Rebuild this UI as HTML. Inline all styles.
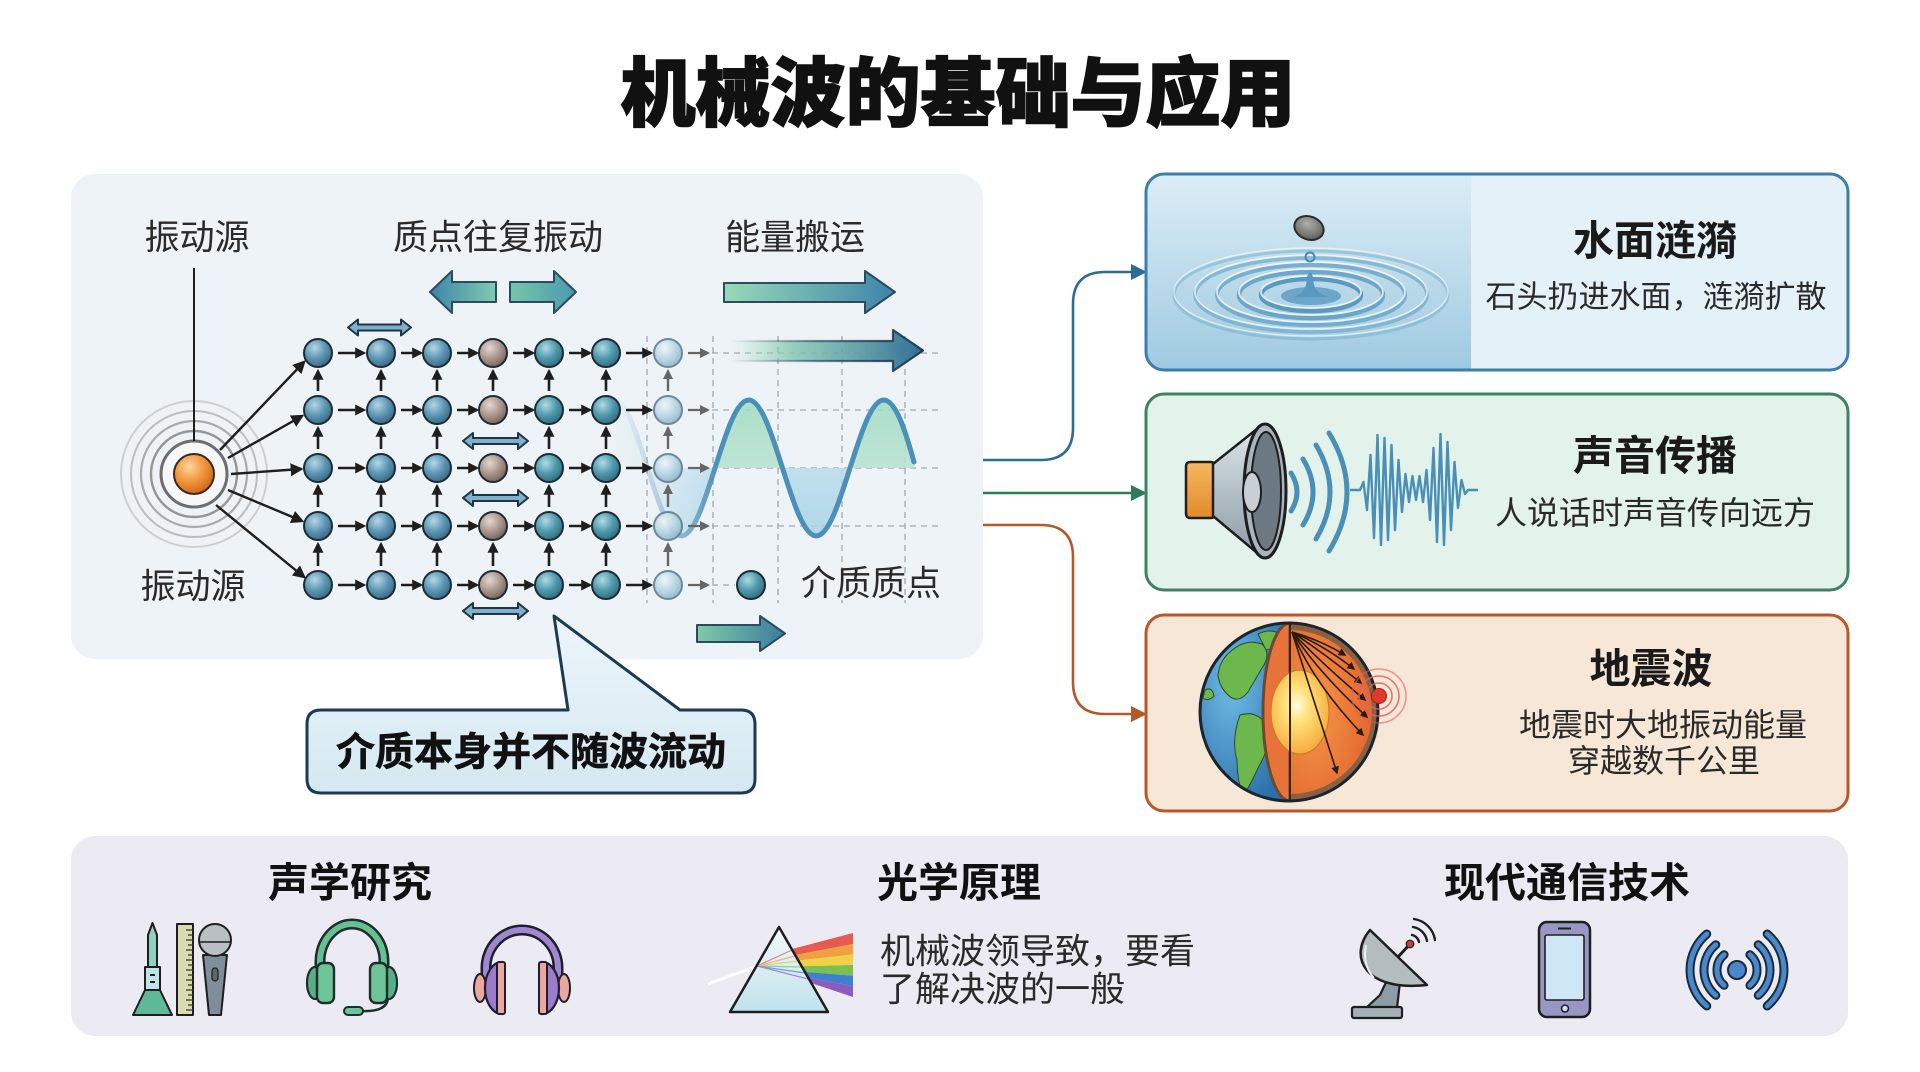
<!DOCTYPE html>
<html><head><meta charset="utf-8"><style>
html,body{margin:0;padding:0;background:#fff;}
svg{display:block;}
text{font-family:"Liberation Sans","Noto Sans CJK SC",sans-serif;}
</style></head><body>
<svg width="1920" height="1072" viewBox="0 0 1920 1072" xmlns="http://www.w3.org/2000/svg">
<defs>
  <marker id="ahS" viewBox="0 0 10 10" refX="8" refY="5" markerWidth="11" markerHeight="11" markerUnits="userSpaceOnUse" orient="auto"><path d="M0,0 L10,5 L0,10 z" fill="#1e1e1e"/></marker>
  <marker id="ahG" viewBox="0 0 10 10" refX="8" refY="5" markerWidth="10" markerHeight="10" markerUnits="userSpaceOnUse" orient="auto"><path d="M0,0 L10,5 L0,10 z" fill="#666"/></marker>
  <marker id="ahM" viewBox="0 0 10 10" refX="8" refY="5" markerWidth="13" markerHeight="13" markerUnits="userSpaceOnUse" orient="auto"><path d="M0,0 L10,5 L0,10 z" fill="#1e1e1e"/></marker>
  <marker id="ahE" viewBox="0 0 10 10" refX="8" refY="5" markerWidth="8" markerHeight="8" markerUnits="userSpaceOnUse" orient="auto"><path d="M0,0 L10,5 L0,10 z" fill="#2a1a10"/></marker>
  <radialGradient id="gBall" cx="0.38" cy="0.32" r="0.7"><stop offset="0" stop-color="#b4d6e6"/><stop offset="0.55" stop-color="#5d96b3"/><stop offset="1" stop-color="#3a6a85"/></radialGradient>
  <radialGradient id="gBallT" cx="0.38" cy="0.32" r="0.7"><stop offset="0" stop-color="#b0dbe2"/><stop offset="0.55" stop-color="#4f99ad"/><stop offset="1" stop-color="#336c80"/></radialGradient>
  <radialGradient id="gBrown" cx="0.38" cy="0.32" r="0.7"><stop offset="0" stop-color="#e4d8d0"/><stop offset="0.55" stop-color="#ab978d"/><stop offset="1" stop-color="#77655d"/></radialGradient>
  <radialGradient id="gLight" cx="0.38" cy="0.32" r="0.7"><stop offset="0" stop-color="#eef6fa"/><stop offset="0.55" stop-color="#b8d6e4"/><stop offset="1" stop-color="#8fb6c8"/></radialGradient>
  <radialGradient id="gOrange" cx="0.38" cy="0.32" r="0.7"><stop offset="0" stop-color="#ffd6a0"/><stop offset="0.5" stop-color="#f39a40"/><stop offset="1" stop-color="#cf651c"/></radialGradient>
  <linearGradient id="gArrL" x1="0" x2="1" y1="0" y2="0"><stop offset="0" stop-color="#3d84a8"/><stop offset="1" stop-color="#80cbb0"/></linearGradient>
  <linearGradient id="gArrR" x1="0" x2="1" y1="0" y2="0"><stop offset="0" stop-color="#78c6a8"/><stop offset="1" stop-color="#4b98b0"/></linearGradient>
  <linearGradient id="gEnergy" x1="0" x2="1" y1="0" y2="0"><stop offset="0" stop-color="#98dab8"/><stop offset="1" stop-color="#3e84aa"/></linearGradient>
  <linearGradient id="gEnergy2" x1="731" x2="923" y1="0" y2="0" gradientUnits="userSpaceOnUse"><stop offset="0" stop-color="#a6dcc4" stop-opacity="0"/><stop offset="0.3" stop-color="#86c8b2" stop-opacity="0.8"/><stop offset="1" stop-color="#2f6f95"/></linearGradient>
  <linearGradient id="gEnergy2s" x1="731" x2="923" y1="0" y2="0" gradientUnits="userSpaceOnUse"><stop offset="0" stop-color="#1e3a50" stop-opacity="0"/><stop offset="0.45" stop-color="#1e3a50" stop-opacity="0.6"/><stop offset="1" stop-color="#1e3a50"/></linearGradient>
  <linearGradient id="gBot" x1="0" x2="1" y1="0" y2="0"><stop offset="0" stop-color="#80caa8"/><stop offset="1" stop-color="#3b7ca0"/></linearGradient>
  <linearGradient id="gWaveFill" x1="0" y1="400" x2="0" y2="536" gradientUnits="userSpaceOnUse"><stop offset="0" stop-color="#9fdac0"/><stop offset="0.5" stop-color="#b6e2d0"/><stop offset="0.5" stop-color="#b9dcea"/><stop offset="1" stop-color="#a6d2e6"/></linearGradient>
  <linearGradient id="gFade" x1="612" x2="720" y1="0" y2="0" gradientUnits="userSpaceOnUse"><stop offset="0" stop-color="#000"/><stop offset="0.35" stop-color="#444"/><stop offset="1" stop-color="#fff"/></linearGradient>
  <mask id="mFade"><rect x="600" y="380" width="340" height="180" fill="url(#gFade)"/></mask>
  <linearGradient id="gCard1Img" x1="0" y1="0" x2="0" y2="1"><stop offset="0" stop-color="#dcedf6"/><stop offset="1" stop-color="#9fcae1"/></linearGradient>
  <linearGradient id="gCallout" x1="0" y1="616" x2="0" y2="793" gradientUnits="userSpaceOnUse"><stop offset="0" stop-color="#edf6fb"/><stop offset="1" stop-color="#d4e8f1"/></linearGradient>
  <radialGradient id="gOcean" cx="0.35" cy="0.35" r="0.75"><stop offset="0" stop-color="#70bce4"/><stop offset="1" stop-color="#2a6eaa"/></radialGradient>
  <radialGradient id="gMantle" cx="0.3" cy="0.5" r="0.8"><stop offset="0" stop-color="#f5964a"/><stop offset="1" stop-color="#e0602a"/></radialGradient>
  <radialGradient id="gCore" cx="0.45" cy="0.42" r="0.6"><stop offset="0" stop-color="#fffbe6"/><stop offset="0.35" stop-color="#ffe27a"/><stop offset="1" stop-color="#f6ab3c"/></radialGradient>
  <linearGradient id="gPrism" x1="0" y1="0" x2="0" y2="1"><stop offset="0" stop-color="#f2fafc"/><stop offset="1" stop-color="#bfe2ec"/></linearGradient>
  <radialGradient id="gPebble" cx="0.4" cy="0.35" r="0.7"><stop offset="0" stop-color="#b0b0ac"/><stop offset="1" stop-color="#5a5a58"/></radialGradient>
  <linearGradient id="gCone" x1="0" y1="0" x2="0" y2="1"><stop offset="0" stop-color="#dfe6ea"/><stop offset="0.5" stop-color="#b4c0c8"/><stop offset="1" stop-color="#8e9ca6"/></linearGradient>
  <linearGradient id="gBox" x1="0" y1="0" x2="0" y2="1"><stop offset="0" stop-color="#f7b860"/><stop offset="1" stop-color="#e08a2c"/></linearGradient>
  <clipPath id="cCard1"><rect x="1146" y="174" width="702" height="196" rx="18"/></clipPath>
  <clipPath id="cGlobe"><path d="M1290,623 A89 89 0 0 0 1290,801 Z"/></clipPath>
</defs>

<!-- Title -->
<text x="958" y="94" font-size="75" font-weight="900" fill="#111" stroke="#111" stroke-width="1.6" text-anchor="middle" dominant-baseline="central">机械波的基础与应用</text>

<!-- Left panel -->
<rect x="71" y="174" width="912" height="485" rx="24" fill="#eef3f8"/>

<!-- dashed grid -->
<g stroke="#9ea9b1" stroke-width="1.3" stroke-dasharray="6 5" fill="none">
  <path d="M712,353 H940 M712,410 H940 M712,468 H940 M712,526 H940 M712,585 H735"/>
  <path d="M647,336 V603 M713,336 V603 M778,336 V603 M842,336 V603 M905,336 V603"/>
</g>

<!-- wave -->
<g mask="url(#mFade)">
  <path d="M613.75,400 C625.97,400 636.5,433.2 647.5,468 C658.5,502.8 669.03,536 681.25,536 C693.47,536 704,502.8 715,468 C726,433.2 736.53,400 748.75,400 C760.97,400 771.5,433.2 782.5,468 C793.5,502.8 804.03,536 816.25,536 C828.47,536 839,502.8 850,468 C861,433.2 871.53,400 883.75,400 C895.97,400 906,433 914,462 L914,468 L613.75,468 Z" fill="url(#gWaveFill)" opacity="0.85"/>
  <path d="M613.75,400 C625.97,400 636.5,433.2 647.5,468 C658.5,502.8 669.03,536 681.25,536 C693.47,536 704,502.8 715,468 C726,433.2 736.53,400 748.75,400 C760.97,400 771.5,433.2 782.5,468 C793.5,502.8 804.03,536 816.25,536 C828.47,536 839,502.8 850,468 C861,433.2 871.53,400 883.75,400 C895.97,400 906,433 914,462" fill="none" stroke="#4a90b8" stroke-width="5" stroke-linecap="round"/>
</g>

<!-- source rings -->
<g fill="none">
  <circle cx="194" cy="474" r="73" stroke="#cfcfcf" stroke-width="2"/>
  <circle cx="194" cy="474" r="63" stroke="#bdbdbd" stroke-width="2"/>
  <circle cx="194" cy="474" r="53" stroke="#aaaaaa" stroke-width="2.2"/>
  <circle cx="194" cy="474" r="43" stroke="#959595" stroke-width="2.4"/>
</g>
<circle cx="194" cy="474" r="31" fill="#f5f7f9"/>
<circle cx="194" cy="474" r="33" fill="none" stroke="#6e6e6e" stroke-width="3"/>
<circle cx="194" cy="474" r="20" fill="url(#gOrange)" stroke="#3a2a20" stroke-width="2"/>
<line x1="194" y1="268" x2="194" y2="441" stroke="#1e1e1e" stroke-width="2"/>

<!-- source arrows -->
<g stroke="#1e1e1e" stroke-width="2.4" marker-end="url(#ahM)">
  <line x1="220" y1="450" x2="304" y2="362"/>
  <line x1="228" y1="458" x2="302" y2="416"/>
  <line x1="231" y1="474" x2="301" y2="469"/>
  <line x1="228" y1="490" x2="302" y2="521"/>
  <line x1="216" y1="505" x2="304" y2="577"/>
</g>

<!-- vertical arrows -->
<g stroke="#1e1e1e" stroke-width="2.6" marker-end="url(#ahS)">
  <line x1="318" y1="391" x2="318" y2="371"/><line x1="318" y1="449" x2="318" y2="428"/><line x1="318" y1="507" x2="318" y2="486"/><line x1="318" y1="566" x2="318" y2="544"/>
  <line x1="381" y1="391" x2="381" y2="371"/><line x1="381" y1="449" x2="381" y2="428"/><line x1="381" y1="507" x2="381" y2="486"/><line x1="381" y1="566" x2="381" y2="544"/>
  <line x1="437" y1="391" x2="437" y2="371"/><line x1="437" y1="449" x2="437" y2="428"/><line x1="437" y1="507" x2="437" y2="486"/><line x1="437" y1="566" x2="437" y2="544"/>
  <line x1="493" y1="391" x2="493" y2="371"/><line x1="493" y1="566" x2="493" y2="544"/>
  <line x1="549" y1="391" x2="549" y2="371"/><line x1="549" y1="449" x2="549" y2="428"/><line x1="549" y1="507" x2="549" y2="486"/><line x1="549" y1="566" x2="549" y2="544"/>
  <line x1="606" y1="391" x2="606" y2="371"/><line x1="606" y1="449" x2="606" y2="428"/><line x1="606" y1="507" x2="606" y2="486"/><line x1="606" y1="566" x2="606" y2="544"/>
</g>
<g stroke="#666" stroke-width="2.4" marker-end="url(#ahG)">
  <line x1="668" y1="391" x2="668" y2="371"/><line x1="668" y1="449" x2="668" y2="428"/><line x1="668" y1="507" x2="668" y2="486"/><line x1="668" y1="566" x2="668" y2="544"/>
</g>

<!-- horizontal arrows -->
<g stroke="#1e1e1e" stroke-width="2.6" marker-end="url(#ahS)">
  <line x1="338" y1="353" x2="364" y2="353"/><line x1="401" y1="353" x2="421" y2="353"/><line x1="457" y1="353" x2="477" y2="353"/><line x1="513" y1="353" x2="533" y2="353"/><line x1="569" y1="353" x2="590" y2="353"/><line x1="626" y1="353" x2="651" y2="353"/>
  <line x1="338" y1="410" x2="364" y2="410"/><line x1="401" y1="410" x2="421" y2="410"/><line x1="457" y1="410" x2="477" y2="410"/><line x1="513" y1="410" x2="533" y2="410"/><line x1="569" y1="410" x2="590" y2="410"/><line x1="626" y1="410" x2="651" y2="410"/>
  <line x1="338" y1="468" x2="364" y2="468"/><line x1="401" y1="468" x2="421" y2="468"/><line x1="457" y1="468" x2="477" y2="468"/><line x1="513" y1="468" x2="533" y2="468"/><line x1="569" y1="468" x2="590" y2="468"/><line x1="626" y1="468" x2="651" y2="468"/>
  <line x1="338" y1="526" x2="364" y2="526"/><line x1="401" y1="526" x2="421" y2="526"/><line x1="457" y1="526" x2="477" y2="526"/><line x1="513" y1="526" x2="533" y2="526"/><line x1="569" y1="526" x2="590" y2="526"/><line x1="626" y1="526" x2="651" y2="526"/>
  <line x1="338" y1="585" x2="364" y2="585"/><line x1="401" y1="585" x2="421" y2="585"/><line x1="457" y1="585" x2="477" y2="585"/><line x1="513" y1="585" x2="533" y2="585"/><line x1="569" y1="585" x2="590" y2="585"/><line x1="626" y1="585" x2="651" y2="585"/>
</g>
<g stroke="#666" stroke-width="2.2" marker-end="url(#ahG)">
  <line x1="688" y1="353" x2="708" y2="353"/><line x1="688" y1="410" x2="708" y2="410"/><line x1="688" y1="468" x2="708" y2="468"/><line x1="688" y1="526" x2="708" y2="526"/><line x1="688" y1="585" x2="708" y2="585"/>
</g>

<!-- balls -->
<g stroke="#1d2b35" stroke-width="2">
  <g fill="url(#gBall)">
    <circle cx="318" cy="353" r="14"/><circle cx="318" cy="410" r="14"/><circle cx="318" cy="468" r="14"/><circle cx="318" cy="526" r="14"/><circle cx="318" cy="585" r="14"/>
    <circle cx="381" cy="353" r="14"/><circle cx="381" cy="410" r="14"/><circle cx="381" cy="468" r="14"/><circle cx="381" cy="526" r="14"/><circle cx="381" cy="585" r="14"/>
    <circle cx="437" cy="353" r="14"/><circle cx="437" cy="410" r="14"/><circle cx="437" cy="468" r="14"/><circle cx="437" cy="526" r="14"/><circle cx="437" cy="585" r="14"/>
  </g>
  <g fill="url(#gBrown)">
    <circle cx="493" cy="353" r="14"/><circle cx="493" cy="410" r="14"/><circle cx="493" cy="468" r="14"/><circle cx="493" cy="526" r="14"/><circle cx="493" cy="585" r="14"/>
  </g>
  <g fill="url(#gBallT)">
    <circle cx="549" cy="353" r="14"/><circle cx="549" cy="410" r="14"/><circle cx="549" cy="468" r="14"/><circle cx="549" cy="526" r="14"/><circle cx="549" cy="585" r="14"/>
    <circle cx="606" cy="353" r="14"/><circle cx="606" cy="410" r="14"/><circle cx="606" cy="468" r="14"/><circle cx="606" cy="526" r="14"/><circle cx="606" cy="585" r="14"/>
    <circle cx="751" cy="585" r="14"/>
  </g>
</g>
<g fill="url(#gLight)" stroke="#5f7f8f" stroke-width="2" opacity="0.9">
  <circle cx="668" cy="353" r="14"/><circle cx="668" cy="410" r="14"/><circle cx="668" cy="468" r="14"/><circle cx="668" cy="526" r="14"/><circle cx="668" cy="585" r="14"/>
</g>

<!-- double arrows -->
<g fill="#7fb2ca" stroke="#1f3444" stroke-width="2" stroke-linejoin="round">
  <polygon points="348,327.5 358,319.5 358,324.5 401,324.5 401,319.5 411,327.5 401,335.5 401,330.5 358,330.5 358,335.5"/>
  <polygon points="463,441 473,433 473,438 518,438 518,433 528,441 518,449 518,444 473,444 473,449"/>
  <polygon points="463,498 473,490 473,495 518,495 518,490 528,498 518,506 518,501 473,501 473,506"/>
  <polygon points="463,611 473,603 473,608 518,608 518,603 528,611 518,619 518,614 473,614 473,619"/>
</g>

<!-- big arrows -->
<g stroke="#2b4c5e" stroke-width="2" stroke-linejoin="round">
  <polygon points="430,292 452,271 452,282 496,282 496,302 452,302 452,313" fill="url(#gArrL)"/>
  <polygon points="510,282 554,282 554,271 576,292 554,313 554,302 510,302" fill="url(#gArrR)"/>
  <polygon points="724,283 865,283 865,271 895,292 865,313 865,302 724,302" fill="url(#gEnergy)"/>
  <polygon points="697,625 760,625 760,616 785,633.5 760,651 760,642 697,642" fill="url(#gBot)"/>
</g>
<polygon points="731,341 893,341 893,330 923,350.5 893,371 893,361 731,361" fill="url(#gEnergy2)" stroke="url(#gEnergy2s)" stroke-width="2.2" stroke-linejoin="round"/>

<!-- left panel labels -->
<g font-size="35" fill="#2a2a2a" text-anchor="middle" dominant-baseline="central">
  <text x="197" y="238">振动源</text>
  <text x="498" y="238">质点往复振动</text>
  <text x="795" y="238">能量搬运</text>
  <text x="193" y="587">振动源</text>
  <text x="871" y="584">介质质点</text>
</g>

<!-- callout -->
<path d="M321,710 H568 L554,616 L680,710 H741 Q755,710 755,724 V779 Q755,793 741,793 H321 Q307,793 307,779 V724 Q307,710 321,710 Z" fill="url(#gCallout)" stroke="#1e3a50" stroke-width="3" stroke-linejoin="round"/>
<text x="531" y="753" font-size="39" font-weight="700" fill="#111" stroke="#111" stroke-width="0.6" text-anchor="middle" dominant-baseline="central">介质本身并不随波流动</text>

<!-- connectors -->
<g fill="none" stroke-width="2.6">
  <path d="M983,460 H1041 Q1073,460 1073,428 V304 Q1073,272 1105,272 H1136" stroke="#2e6d93"/>
  <path d="M983,493 H1136" stroke="#2e7a5c"/>
  <path d="M983,525 H1041 Q1073,525 1073,557 V682 Q1073,714 1105,714 H1136" stroke="#b35a2a"/>
</g>
<polygon points="1131,264 1147,272 1131,280" fill="#2e6d93"/>
<polygon points="1131,485 1147,493 1131,501" fill="#2e7a5c"/>
<polygon points="1131,706 1147,714 1131,722" fill="#b35a2a"/>

<!-- Card 1 -->
<rect x="1146" y="174" width="702" height="196" rx="18" fill="#e4f1f9"/>
<g clip-path="url(#cCard1)">
  <rect x="1146" y="174" width="325" height="196" fill="url(#gCard1Img)"/>
</g>
<g fill="none">
  <ellipse cx="1311" cy="295" rx="137" ry="44" stroke="#78b0cc" stroke-width="3" opacity="0.55"/>
  <ellipse cx="1311" cy="292" rx="137" ry="44" stroke="#ffffff" stroke-width="1.4" opacity="0.6"/>
  <ellipse cx="1311" cy="295" rx="116" ry="37" stroke="#6aa6c6" stroke-width="3.5" opacity="0.65"/>
  <ellipse cx="1311" cy="292" rx="116" ry="37" stroke="#ffffff" stroke-width="1.6" opacity="0.7"/>
  <ellipse cx="1311" cy="295" rx="94" ry="30" stroke="#62a0c4" stroke-width="4" opacity="0.75"/>
  <ellipse cx="1311" cy="292" rx="94" ry="30" stroke="#ffffff" stroke-width="1.8" opacity="0.75"/>
  <ellipse cx="1311" cy="295" rx="72" ry="23" stroke="#5a9ac0" stroke-width="4.5" opacity="0.8"/>
  <ellipse cx="1311" cy="292" rx="72" ry="23" stroke="#ffffff" stroke-width="1.8" opacity="0.75"/>
  <ellipse cx="1311" cy="295" rx="50" ry="16" stroke="#5292b8" stroke-width="4.5" opacity="0.9"/>
  <ellipse cx="1311" cy="292" rx="50" ry="16" stroke="#ffffff" stroke-width="1.8" opacity="0.75"/>
</g>
<ellipse cx="1311" cy="296" rx="30" ry="9" fill="#5f9ec4" opacity="0.85"/>
<path d="M1292,297 C1304,295 1307,286 1307,277 Q1310,268 1313,277 C1313,286 1316,295 1330,297 Z" fill="#5a98c0"/>
<circle cx="1310" cy="257" r="4.5" fill="none" stroke="#4a88b0" stroke-width="2"/>
<ellipse cx="1309" cy="228" rx="15" ry="11.5" transform="rotate(20 1309 228)" fill="url(#gPebble)" stroke="#2a2a2a" stroke-width="2"/>
<rect x="1146" y="174" width="702" height="196" rx="18" fill="none" stroke="#3b7ea8" stroke-width="3"/>
<text x="1655" y="241" font-size="41" font-weight="700" fill="#1a1a1a" text-anchor="middle" dominant-baseline="central">水面涟漪</text>
<text x="1656" y="297" font-size="31" fill="#2a2a2a" text-anchor="middle" dominant-baseline="central">石头扔进水面，涟漪扩散</text>

<!-- Card 2 -->
<rect x="1146" y="394" width="702" height="196" rx="18" fill="#e3f3ec" stroke="#3f8068" stroke-width="3"/>
<rect x="1186" y="462" width="29" height="56" rx="4" fill="url(#gBox)" stroke="#1e1e1e" stroke-width="2.5"/>
<polygon points="1213,464 1262,425 1262,557 1213,516" fill="url(#gCone)" stroke="#1e1e1e" stroke-width="2.5" stroke-linejoin="round"/>
<ellipse cx="1265" cy="491" rx="21" ry="67" fill="#aab6be" stroke="#1e1e1e" stroke-width="3"/>
<ellipse cx="1266" cy="491" rx="15" ry="59" fill="#6c7882" stroke="#1e1e1e" stroke-width="2"/>
<ellipse cx="1252" cy="492" rx="9" ry="20" fill="#c8d0d6" stroke="#1e1e1e" stroke-width="2"/>
<g fill="none" stroke="#4a8fb5" stroke-width="5" stroke-linecap="round">
  <path d="M1291,473 Q1303,492 1291,511"/>
  <path d="M1303,459 Q1323,492 1303,525"/>
  <path d="M1316,445 Q1344,492 1316,539"/>
  <path d="M1329,433 Q1365,492 1329,551"/>
</g>
<polyline fill="none" stroke="#4a8fb5" stroke-width="2.4" stroke-linejoin="round" points="1350,490 1360,490 1363.5,482 1367,510 1370.5,455 1374,538 1377.5,435 1381,545 1384.5,438 1388,540 1391.5,445 1395,530 1398.5,460 1402,512 1405.5,474 1409,502 1412.5,476 1416,500 1419.5,476 1423,502 1426.5,470 1430,520 1433.5,448 1437,542 1440.5,434 1444,545 1447.5,442 1451,530 1454.5,462 1458,508 1461.5,480 1465,494 1468,490 1478,490"/>
<text x="1655" y="456" font-size="41" font-weight="700" fill="#1a1a1a" text-anchor="middle" dominant-baseline="central">声音传播</text>
<text x="1655" y="513" font-size="32" fill="#2a2a2a" text-anchor="middle" dominant-baseline="central">人说话时声音传向远方</text>

<!-- Card 3 -->
<rect x="1146" y="615" width="702" height="196" rx="18" fill="#f7e7d6" stroke="#b8582a" stroke-width="3"/>
<path d="M1290,623 A89 89 0 0 0 1290,801 Z" fill="url(#gOcean)"/>
<g clip-path="url(#cGlobe)" fill="#6cb84c" stroke="#2a4a2a" stroke-width="1">
  <path d="M1230,652 Q1245,638 1262,644 Q1272,654 1262,668 Q1255,680 1248,692 Q1240,702 1232,698 Q1220,690 1218,675 Q1220,660 1230,652 Z"/>
  <path d="M1240,715 Q1256,710 1266,724 Q1272,745 1259,766 Q1250,786 1243,796 Q1237,780 1237,760 Q1231,740 1240,715 Z"/>
  <path d="M1258,634 Q1270,628 1280,634 Q1279,648 1266,650 Z"/>
  <path d="M1205,690 Q1212,686 1214,696 Q1208,702 1203,698 Z"/>
</g>
<path d="M1290,623 A27 89 0 0 0 1290,801 Z" fill="#e8733a" stroke="#6a4a30" stroke-width="3"/>
<path d="M1290,623 A89 89 0 0 1 1290,801 Z" fill="#8a6040"/>
<path d="M1290,630 A82 82 0 0 1 1290,794 Z" fill="url(#gMantle)"/>
<ellipse cx="1300" cy="712" rx="29" ry="42" fill="url(#gCore)" stroke="#d07a28" stroke-width="1.2"/>
<line x1="1290" y1="623" x2="1290" y2="801" stroke="#3a2418" stroke-width="2"/>
<g fill="none" stroke="#2a1a10" stroke-width="1.6" marker-end="url(#ahE)">
  <path d="M1292,632 Q1320,640 1345,655"/>
  <path d="M1292,632 Q1325,646 1354,669"/>
  <path d="M1292,632 Q1325,654 1361,683"/>
  <path d="M1292,632 Q1320,662 1365,700"/>
  <path d="M1292,632 Q1318,672 1367,717"/>
  <path d="M1292,632 Q1314,684 1363,735"/>
  <path d="M1292,632 Q1312,694 1337,773"/>
</g>
<circle cx="1289" cy="712" r="89" fill="none" stroke="#1a2530" stroke-width="3"/>
<g fill="none" stroke="#e06060" stroke-width="1.6" opacity="0.85">
  <circle cx="1379" cy="696" r="13"/><circle cx="1379" cy="696" r="20"/><circle cx="1379" cy="696" r="27" opacity="0.7"/>
</g>
<circle cx="1379" cy="696" r="7.5" fill="#e03a2a" stroke="#a02018" stroke-width="1"/>
<text x="1651" y="669" font-size="41" font-weight="700" fill="#1a1a1a" text-anchor="middle" dominant-baseline="central">地震波</text>
<text x="1663" y="725" font-size="32" fill="#2a2a2a" text-anchor="middle" dominant-baseline="central">地震时大地振动能量</text>
<text x="1664" y="761" font-size="32" fill="#2a2a2a" text-anchor="middle" dominant-baseline="central">穿越数千公里</text>

<!-- Bottom panel -->
<rect x="71" y="836" width="1777" height="200" rx="24" fill="#ecebf3"/>
<g font-size="41" font-weight="700" fill="#111" text-anchor="middle" dominant-baseline="central">
  <text x="350" y="883">声学研究</text>
  <text x="959" y="883">光学原理</text>
  <text x="1567" y="883">现代通信技术</text>
</g>

<!-- flask -->
<g stroke="#1e1e1e" stroke-width="2" stroke-linejoin="round">
  <polygon points="152.5,923 157,935 157,967 148,967 148,935" fill="#8fd0c0"/>
  <rect x="145" y="967" width="15" height="23" fill="#bfe3e6"/>
  <polygon points="145,990 160,990 172,1015 133,1015" fill="#5fb898"/>
  <rect x="177" y="924" width="16" height="91" fill="#d9dcae"/>
</g>
<path d="M150,975 H155 M150,982 H155" stroke="#1e1e1e" stroke-width="2"/>
<path d="M186,930 H193 M188,935 H193 M186,940 H193 M188,945 H193 M186,950 H193 M188,955 H193 M186,960 H193 M188,965 H193 M186,970 H193 M188,975 H193 M186,980 H193 M188,985 H193 M186,990 H193 M188,995 H193 M186,1000 H193 M188,1005 H193 M186,1010 H193" stroke="#333" stroke-width="1.2"/>
<polygon points="203,955 227,955 221,1015 209,1015" fill="#7f8e98" stroke="#1e1e1e" stroke-width="2" stroke-linejoin="round"/>
<circle cx="215" cy="940" r="16" fill="#b8c0c4" stroke="#1e1e1e" stroke-width="2"/>
<path d="M200,942 H230" stroke="#1e1e1e" stroke-width="1.5"/>
<rect x="212" y="968" width="6" height="13" rx="3" fill="#596870" stroke="#1e1e1e" stroke-width="1.2"/>

<!-- green headphones -->
<path d="M320,985 L320,962 A32 38 0 0 1 384,962 L384,985" fill="none" stroke="#1e2e2a" stroke-width="11"/>
<path d="M320,985 L320,962 A32 38 0 0 1 384,962 L384,985" fill="none" stroke="#66bf92" stroke-width="6"/>
<ellipse cx="315" cy="983" rx="8" ry="16" fill="#5aae85" stroke="#1e2e2a" stroke-width="2.2"/>
<ellipse cx="389" cy="983" rx="8" ry="16" fill="#5aae85" stroke="#1e2e2a" stroke-width="2.2"/>
<rect x="317" y="963" width="17" height="40" rx="6" fill="#6cc497" stroke="#1e2e2a" stroke-width="2.4"/>
<rect x="370" y="963" width="17" height="40" rx="6" fill="#6cc497" stroke="#1e2e2a" stroke-width="2.4"/>
<path d="M388,998 Q387,1012 362,1011" fill="none" stroke="#1e2e2a" stroke-width="2.5"/>
<rect x="344" y="1007" width="19" height="8" rx="4" fill="#6cc497" stroke="#1e2e2a" stroke-width="2"/>

<!-- purple headphones -->
<path d="M486,990 L486,968 A36 38 0 0 1 558,968 L558,990" fill="none" stroke="#1e1e2e" stroke-width="11"/>
<path d="M486,990 L486,968 A36 38 0 0 1 558,968 L558,990" fill="none" stroke="#a088d0" stroke-width="6"/>
<ellipse cx="480" cy="988" rx="6" ry="14" fill="#eaa8a0" stroke="#1e1e2e" stroke-width="2"/>
<ellipse cx="564" cy="988" rx="6" ry="14" fill="#eaa8a0" stroke="#1e1e2e" stroke-width="2"/>
<path d="M502,962 A17 26 0 0 0 502,1014 Z" fill="#9a7cc9" stroke="#1e1e2e" stroke-width="2.2"/>
<path d="M542,962 A17 26 0 0 1 542,1014 Z" fill="#9a7cc9" stroke="#1e1e2e" stroke-width="2.2"/>
<rect x="497" y="962" width="8" height="52" rx="2" fill="#eaa8a0" stroke="#1e1e2e" stroke-width="2"/>
<rect x="539" y="962" width="8" height="52" rx="2" fill="#eaa8a0" stroke="#1e1e2e" stroke-width="2"/>

<!-- prism -->
<line x1="708" y1="984" x2="757" y2="966" stroke="#ffffff" stroke-width="3"/>
<polygon points="779,927 730,1012 828,1012" fill="url(#gPrism)"/>
<g stroke-width="1.2" opacity="0.7">
  <line x1="757" y1="966" x2="792" y2="950" stroke="#e85a50"/>
  <line x1="757" y1="966" x2="795" y2="956" stroke="#f0a040"/>
  <line x1="757" y1="966" x2="798" y2="961" stroke="#e0c040"/>
  <line x1="757" y1="966" x2="802" y2="967" stroke="#7cc050"/>
  <line x1="757" y1="966" x2="805" y2="973" stroke="#3f7fcf"/>
  <line x1="757" y1="966" x2="808" y2="979" stroke="#8a5cc0"/>
</g>
<polygon points="792,949 795.4,955 853,944 853,933" fill="#e85a50"/>
<polygon points="795.4,955 798.6,960.5 853,954.5 853,944" fill="#f0a040"/>
<polygon points="798.6,960.5 801.9,966.2 853,965 853,954.5" fill="#f2d04a"/>
<polygon points="801.9,966.2 805.2,971.9 853,975.7 853,965" fill="#7cc050"/>
<polygon points="805.2,971.9 808.5,977.6 853,986.3 853,975.7" fill="#3f7fcf"/>
<polygon points="808.5,977.6 811.8,983.3 853,997 853,986.3" fill="#8a5cc0"/>
<polygon points="779,927 730,1012 828,1012" fill="none" stroke="#1e1e1e" stroke-width="2.5" stroke-linejoin="round"/>
<g font-size="35" fill="#2a2a2a" dominant-baseline="central">
  <text x="880" y="952">机械波领导致，要看</text>
  <text x="880" y="990">了解决波的一般</text>
</g>

<!-- satellite dish -->
<polygon points="1388,978 1400,982 1397,1008 1366,1008 1380,995" fill="#8e9ca6" stroke="#1e1e1e" stroke-width="2.2" stroke-linejoin="round"/>
<rect x="1352" y="1007" width="50" height="11" rx="2" fill="#a4b0b8" stroke="#1e1e1e" stroke-width="2.2"/>
<path d="M1370,930 C1348,956 1364,992 1427,985 Z" fill="#b4bcc0" stroke="#1e1e1e" stroke-width="2.5" stroke-linejoin="round"/>
<path d="M1366,945 Q1362,965 1374,978" fill="none" stroke="#eef2f4" stroke-width="2"/>
<line x1="1398" y1="957" x2="1410" y2="944" stroke="#1e1e1e" stroke-width="3"/>
<circle cx="1410" cy="944" r="3.8" fill="#c04040" stroke="#1e1e1e" stroke-width="1.2"/>
<g fill="none" stroke="#1e1e1e" stroke-width="2.4" stroke-linecap="round">
  <path d="M1412,935 A9 9 0 0 1 1419,942"/>
  <path d="M1413,927 A17 17 0 0 1 1427,941"/>
  <path d="M1414,919 A25 25 0 0 1 1435,940"/>
</g>

<!-- phone -->
<rect x="1539" y="922" width="51" height="95" rx="8" fill="#9a96c4" stroke="#1e1e1e" stroke-width="2.5"/>
<rect x="1545" y="935" width="39" height="65" rx="2" fill="#cfe6f4" stroke="#1e1e1e" stroke-width="1.6"/>
<line x1="1558" y1="928.5" x2="1571" y2="928.5" stroke="#1e1e1e" stroke-width="2"/>
<circle cx="1565" cy="1008.5" r="3.5" fill="#dcdaf0" stroke="#1e1e1e" stroke-width="1.6"/>

<!-- wifi -->
<g fill="none" stroke-linecap="round">
  <g stroke="#1a2a3a" stroke-width="9">
    <path d="M1749.9,954.7 A20 20 0 0 1 1749.9,985.3"/>
    <path d="M1758.2,944.7 A33 33 0 0 1 1758.2,995.3"/>
    <path d="M1767.2,934 A47 47 0 0 1 1767.2,1006"/>
    <path d="M1724.1,954.7 A20 20 0 0 0 1724.1,985.3"/>
    <path d="M1715.8,944.7 A33 33 0 0 0 1715.8,995.3"/>
    <path d="M1706.8,934 A47 47 0 0 0 1706.8,1006"/>
  </g>
  <g stroke="#4a88cc" stroke-width="5">
    <path d="M1749.9,954.7 A20 20 0 0 1 1749.9,985.3"/>
    <path d="M1758.2,944.7 A33 33 0 0 1 1758.2,995.3"/>
    <path d="M1767.2,934 A47 47 0 0 1 1767.2,1006"/>
    <path d="M1724.1,954.7 A20 20 0 0 0 1724.1,985.3"/>
    <path d="M1715.8,944.7 A33 33 0 0 0 1715.8,995.3"/>
    <path d="M1706.8,934 A47 47 0 0 0 1706.8,1006"/>
  </g>
</g>
<circle cx="1737" cy="970" r="9" fill="#4a86cc" stroke="#1a2a3a" stroke-width="2"/>
</svg>
</body></html>
